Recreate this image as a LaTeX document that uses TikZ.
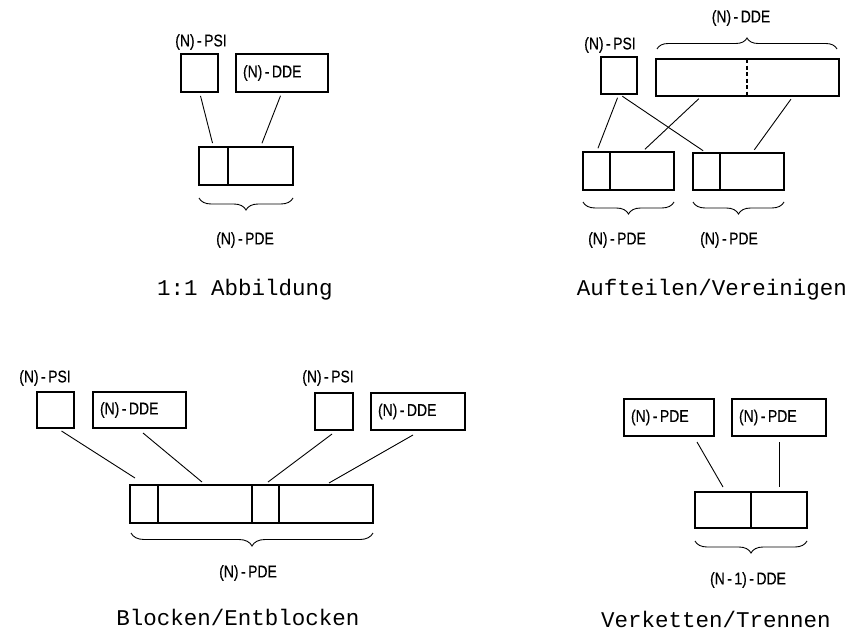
\documentclass[tikz,border=0pt]{standalone}
\usepackage{fontspec}
\setmainfont{Liberation Sans}
\newfontfamily\lblfont[FakeStretch=0.82,FakeBold=0.4]{Liberation Sans}
\newfontfamily\capfont{Liberation Mono}
\newcommand{\hy}{\hspace{2.5pt}-\hspace{2.5pt}}
\usetikzlibrary{calc,decorations.pathreplacing}
\begin{document}
\begin{tikzpicture}[x=1pt,y=-1pt,
  box/.style={draw,line width=1.3pt,inner sep=0pt,outer sep=0pt,anchor=north west},
  tbox/.style={box,inner xsep=7pt,align=left,font=\lblfont\fontsize{17}{19}\selectfont},
  lbl/.style={font=\lblfont\fontsize{17}{19}\selectfont,inner sep=0pt},
  captxt/.style={font=\capfont\fontsize{22.5}{26}\selectfont,inner sep=0pt},
  conn/.style={line width=0.9pt,shorten <=4pt,shorten >=4pt},
  brc/.style={decorate,decoration={brace,amplitude=12pt},line width=0.9pt}]
\useasboundingbox (0,0) rectangle (860,637);
\fill[white] (0,0) rectangle (860,637);

% ---------- Panel 1: 1:1 Abbildung ----------
\node[box,minimum width=37pt,minimum height=38pt] (p1psi) at (181,54) {};
\node[tbox,minimum width=92pt,minimum height=38pt,text width=78pt] (p1dde) at (236,54) {(N)\hy DDE};
\node[box,minimum width=29pt,minimum height=38pt] (p1pci) at (199,147) {};
\node[box,minimum width=65pt,minimum height=38pt] (p1pud) at (228,147) {};
\node[lbl] (p1lpsi) at (201,42) {(N)\hy PSI};
\draw[conn] (p1psi.south) -- (p1pci.north);
\draw[conn] (p1dde.south) -- (p1pud.north);
\draw[brc] (293,198) -- (199,198);
\node[lbl] (p1lpde) at (245,240) {(N)\hy PDE};
\node[captxt] (p1cap) at (245,290) {1:1 Abbildung};

% ---------- Panel 2: Aufteilen/Vereinigen ----------
\node[box,minimum width=36pt,minimum height=37pt] (p2psi) at (601,57) {};
\node[box,minimum width=183pt,minimum height=37pt] (p2dde) at (656,59) {};
\draw[line width=1.3pt,dash pattern=on 4pt off 2.5pt] ($(p2dde.north west)!0.497!(p2dde.north east)$) -- ($(p2dde.south west)!0.497!(p2dde.south east)$);
\coordinate (p2ddea) at ($(p2dde.south west)!0.25!(p2dde.south east)$);
\coordinate (p2ddeb) at ($(p2dde.south west)!0.75!(p2dde.south east)$);
\node[box,minimum width=27pt,minimum height=38pt] (p2lci) at (583,152) {};
\node[box,minimum width=64pt,minimum height=38pt] (p2lud) at (610,152) {};
\node[box,minimum width=27pt,minimum height=37pt] (p2rci) at (693,153) {};
\node[box,minimum width=64pt,minimum height=37pt] (p2rud) at (720,153) {};
\node[lbl] (p2lpsi) at (610,45) {(N)\hy PSI};
\node[lbl] (p2ldde) at (741,18) {(N)\hy DDE};
\draw[brc,decoration={amplitude=11pt}] (657,49) -- (837,49);
\draw[conn] (p2psi.south) -- (p2lci.north);
\draw[conn] (p2psi.south) -- (p2rci.north);
\draw[conn] (p2ddea) -- (p2lud.north);
\draw[conn] (p2ddeb) -- (p2rud.north);
\draw[brc] (674,202) -- (583,202);
\draw[brc] (784,202) -- (693,202);
\node[lbl] (p2lpdea) at (617,240) {(N)\hy PDE};
\node[lbl] (p2lpdeb) at (729,240) {(N)\hy PDE};
\node[captxt] (p2cap) at (712,290) {Aufteilen/Vereinigen};

% ---------- Panel 3: Blocken/Entblocken ----------
\node[box,minimum width=37pt,minimum height=36pt] (p3psia) at (37,392) {};
\node[tbox,minimum width=93pt,minimum height=36pt,text width=79pt] (p3ddea) at (93,392) {(N)\hy DDE};
\node[box,minimum width=38pt,minimum height=37pt] (p3psib) at (315,393) {};
\node[tbox,minimum width=94pt,minimum height=37pt,text width=80pt] (p3ddeb) at (371,393) {(N)\hy DDE};
\node[box,minimum width=28pt,minimum height=38pt] (p3pcia) at (130,485) {};
\node[box,minimum width=94pt,minimum height=38pt] (p3puda) at (158,485) {};
\node[box,minimum width=27pt,minimum height=38pt] (p3pcib) at (252,485) {};
\node[box,minimum width=94pt,minimum height=38pt] (p3pudb) at (279,485) {};
\node[lbl] (p3lpsia) at (45,378) {(N)\hy PSI};
\node[lbl] (p3lpsib) at (328,378) {(N)\hy PSI};
\draw[line width=0.9pt] ($(p3psia.south)+(6,3)$) -- ($(p3pcia.north)+(-9,-7)$);
\draw[line width=0.9pt] ($(p3ddea.south)+(3.5,5)$) -- ($(p3puda.north)+(-3,-3)$);
\draw[line width=0.9pt] ($(p3psib.south)+(-2,4)$) -- ($(p3pcib.north)+(2.5,-3)$);
\draw[line width=0.9pt] ($(p3ddeb.south)+(-5,5)$) -- ($(p3pudb.north)+(3,-2)$);
\draw[brc,decoration={amplitude=13pt}] (373,533) -- (131,533);
\node[lbl] (p3lpde) at (248,573) {(N)\hy PDE};
\node[captxt] (p3cap) at (238,617) {Blocken/Entblocken};

% ---------- Panel 4: Verketten/Trennen ----------
\node[tbox,minimum width=90pt,minimum height=37pt,text width=76pt] (p4pdea) at (624,399) {(N)\hy PDE};
\node[tbox,minimum width=94pt,minimum height=37pt,text width=80pt] (p4pdeb) at (732,399) {(N)\hy PDE};
\node[box,minimum width=56pt,minimum height=36pt] (p4l) at (695,492) {};
\node[box,minimum width=56pt,minimum height=36pt] (p4r) at (751,492) {};
\draw[line width=0.9pt] ($(p4pdea.south)+(28,6)$) -- ($(p4l.north)+(0,-5)$);
\draw[conn,shorten <=6pt,shorten >=5pt] (p4pdeb.south) -- (p4r.north);
\draw[brc] (807,541) -- (695,541);
\node[lbl] (p4ldde) at (748,580) {(N\hy 1)\hy DDE};
\node[captxt] (p4cap) at (716,619) {Verketten/Trennen};
\end{tikzpicture}
\end{document}
